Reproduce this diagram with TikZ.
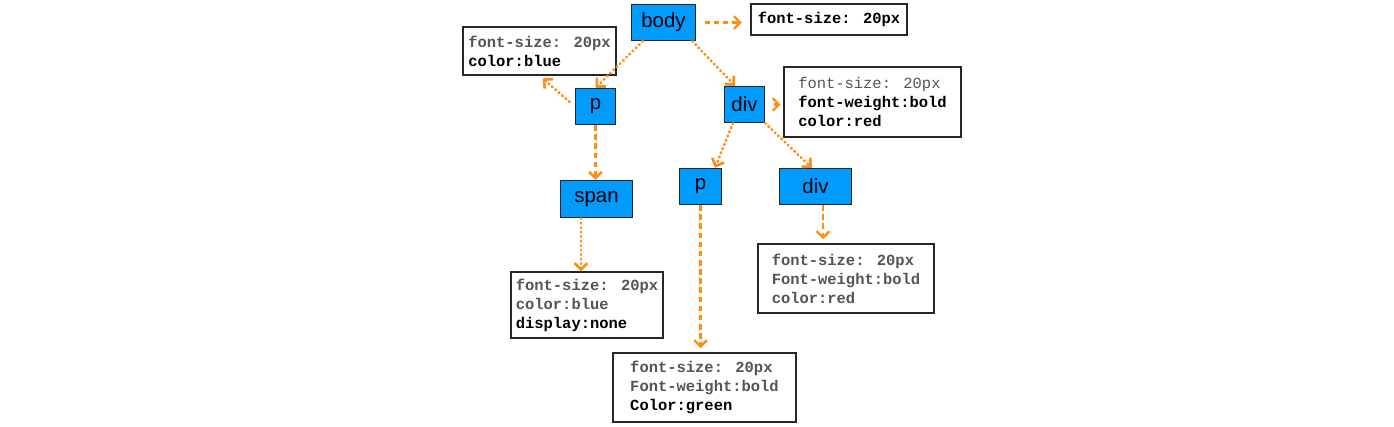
\documentclass[tikz,border=0pt]{standalone}
\usepackage{fontspec}
\setmainfont{Liberation Sans}
\newfontfamily\codefont{Liberation Mono}
\usetikzlibrary{arrows.meta}
\definecolor{domblue}{RGB}{0,155,255}
\definecolor{linkorange}{RGB}{255,140,20}
\definecolor{inherit}{RGB}{85,85,85}
\newcommand{\inh}[1]{\textcolor{inherit}{\bfseries #1}}
\newcommand{\own}[1]{{\bfseries #1}}
\begin{document}
\begin{tikzpicture}[x=0.025cm, y=-0.025cm,
  elem/.style={draw=black!85, line width=0.9pt, fill=domblue, inner sep=0pt,
    minimum height=0.9cm, font=\fontsize{14.5}{16}\selectfont},
  props/.style={draw=black!85, line width=0.9pt, fill=white, inner sep=0pt, align=left,
    font=\codefont\fontsize{11}{13.5}\selectfont},
  dasharrow/.style={-{Straight Barb[length=4.5pt,width=9pt]}, linkorange, line width=1.7pt, dash pattern=on 4pt off 2.5pt},
  dotarrow/.style={-{Straight Barb[length=4.5pt,width=9pt]}, linkorange, line width=1.9pt, line cap=round, dash pattern=on 0.6pt off 2.6pt}
]
  \useasboundingbox (0,0) rectangle (1394,427);

  % DOM elements
  \node[elem, minimum width=1.6cm] (body) at (663.5,22.5) {body};
  \node[elem, minimum width=1.0cm] (p1) at (595.5,106.5) {p};
  \node[elem, minimum width=1.0cm] (div1) at (744.5,104.5) {div};
  \node[elem, minimum width=1.8cm, minimum height=0.93cm] (span) at (596.5,199) {span};
  \node[elem, minimum width=1.05cm] (p2) at (700.5,186.5) {p};
  \node[elem, minimum width=1.8cm] (div2) at (815.5,186.5) {div};

  % computed styles
  \node[props, minimum width=3.9cm, minimum height=0.77cm] (bodystyle) at (829,19.5)
    {\own{font-size: 20px}};
  \node[props, minimum width=3.82cm, minimum height=1.2cm] (p1style) at (539.5,51)
    {\inh{font-size: 20px}\\\own{color:blue}};
  \node[props, minimum width=4.42cm, minimum height=1.75cm] (div1style) at (872.5,102)
    {\textcolor{inherit}{font-size: 20px}\\\own{font-weight:bold}\\\own{color:red}};
  \node[props, minimum width=3.8cm, minimum height=1.65cm] (spanstyle) at (587,305)
    {\inh{font-size: 20px}\\\inh{color:blue}\\\own{display:none}};
  \node[props, minimum width=4.4cm, minimum height=1.72cm] (div2style) at (846,278.5)
    {\inh{font-size: 20px}\\\inh{Font-weight:bold}\\\inh{color:red}};
  \node[props, minimum width=4.57cm, minimum height=1.72cm] (p2style) at (704.5,387.5)
    {\inh{font-size: 20px}\\\inh{Font-weight:bold}\\\own{Color:green}};

  % tree
  \draw[dotarrow] (body.222) -- (p1.north);
  \draw[dotarrow] (body.327) -- (div1.117);
  \draw[dasharrow] (p1.south) -- (p1.south |- span.north);
  \draw[dotarrow] (div1.238) -- (p2.52);
  \draw[dotarrow] (div1.south east) -- (div2.101);

  % styles
  \draw[dasharrow, shorten <=6pt, shorten >=6pt] (body.east) -- (body.east -| bodystyle.west);
  \draw[dotarrow, shorten <=5pt, shorten >=3pt] (p1.west) -- (p1style.south);
  \draw[dasharrow, shorten <=6pt, shorten >=2pt] (div1.east) -- (div1.east -| div1style.west);
  \draw[dotarrow] (span.231) -- (span.231 |- spanstyle.north);
  \draw[dasharrow, shorten >=3pt] (p2.south) -- (p2.south |- p2style.north);
  \draw[dasharrow, shorten >=3pt] (div2.292) -- (div2.292 |- div2style.north);
\end{tikzpicture}
\end{document}
